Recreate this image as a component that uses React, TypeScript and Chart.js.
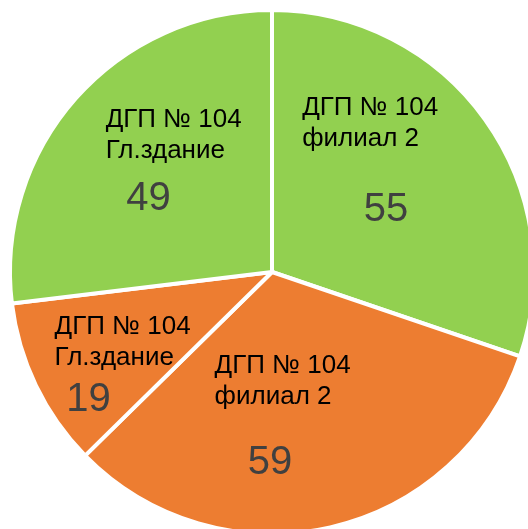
import React, { useEffect, useRef } from "react";
import { Chart, registerables } from "chart.js";

Chart.register(...registerables);

const labelTop = ["ДГП № 104", "ДГП № 104", "ДГП № 104", "ДГП № 104"];
const labelBottom = ["филиал 2", "филиал 2", "Гл.здание", "Гл.здание"];
const values = [55, 59, 19, 49];
const colors = ["#92D050", "#ED7D31", "#ED7D31", "#92D050"];

// label placement relative to pie centre, in units of outer radius
const textAnchor = [
  [0.115, -0.6],
  [-0.219, 0.385],
  [-0.83, 0.235],
  [-0.635, -0.554],
];
const valueAnchor = [
  [0.435, -0.196],
  [-0.008, 0.77],
  [-0.7, 0.53],
  [-0.471, -0.238],
];

const labelPlugin = {
  id: "sliceLabels",
  afterDatasetsDraw(chart: any) {
    const ctx = chart.ctx;
    const meta = chart.getDatasetMeta(0);
    ctx.save();
    meta.data.forEach((arc: any, i: number) => {
      const r = arc.outerRadius;
      const tx = arc.x + textAnchor[i][0] * r;
      const ty = arc.y + textAnchor[i][1] * r;
      ctx.fillStyle = "#000000";
      ctx.font = '26px Arial, "Liberation Sans", sans-serif';
      ctx.textAlign = "left";
      ctx.textBaseline = "alphabetic";
      ctx.fillText(labelTop[i], tx, ty);
      ctx.fillText(labelBottom[i], tx, ty + 31);
      const vx = arc.x + valueAnchor[i][0] * r;
      const vy = arc.y + valueAnchor[i][1] * r;
      ctx.fillStyle = "#404040";
      ctx.font = '40px Arial, "Liberation Sans", sans-serif';
      ctx.textAlign = "center";
      ctx.fillText(String(values[i]), vx, vy);
    });
    ctx.restore();
  },
};

export default function App() {
  const ref = useRef<HTMLCanvasElement>(null);
  useEffect(() => {
    document.body.style.margin = "0";
    const chart = new Chart(ref.current as HTMLCanvasElement, {
      type: "pie",
      data: {
        labels: values.map((_, i) => labelTop[i] + " " + labelBottom[i]),
        datasets: [
          {
            data: values,
            backgroundColor: colors,
            borderColor: "#FFFFFF",
            borderWidth: 4,
          },
        ],
      },
      options: {
        responsive: false,
        animation: false,
        layout: { padding: 8 },
        plugins: {
          legend: { display: false },
          tooltip: { enabled: false },
        },
      },
      plugins: [labelPlugin],
    });
    return () => chart.destroy();
  }, []);
  return (
    <div
      style={{
        position: "fixed",
        left: 0,
        top: 0,
        width: 528,
        height: 529,
        overflow: "hidden",
        background: "#fff",
      }}
    >
      <canvas ref={ref} width={544} height={544} style={{ display: "block" }} />
    </div>
  );
}
